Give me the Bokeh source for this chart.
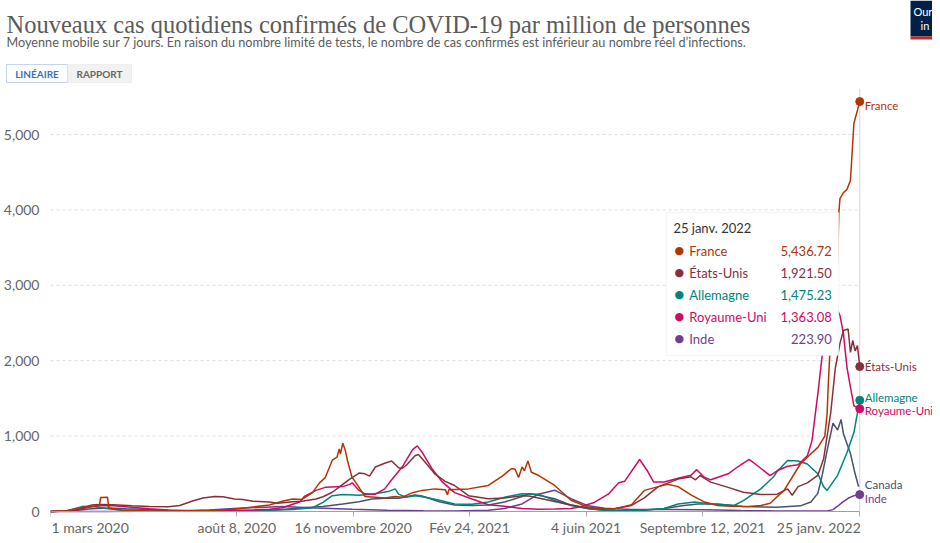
import datetime as dt
from bokeh.plotting import figure
from bokeh.layouts import column
from bokeh.models import Range1d, FixedTicker, NumeralTickFormatter, Label, BoxAnnotation
from bokeh.embed import file_html
from bokeh.resources import INLINE

# ---------------- data ----------------
france_dates = ["2020-03-01", "2020-03-15", "2020-03-25", "2020-04-05", "2020-04-12", "2020-04-13", "2020-04-19",
                "2020-04-20", "2020-05-01", "2020-05-20", "2020-06-15", "2020-07-01", "2020-07-20", "2020-08-06",
                "2020-08-22", "2020-09-05", "2020-09-16", "2020-09-25", "2020-10-03", "2020-10-12", "2020-10-18",
                "2020-10-23", "2020-10-29", "2020-11-02", "2020-11-04", "2020-11-05", "2020-11-07", "2020-11-09",
                "2020-11-11", "2020-11-15", "2020-11-18", "2020-11-26", "2020-12-05", "2020-12-13", "2020-12-22",
                "2020-12-28", "2021-01-06", "2021-01-14", "2021-01-25", "2021-02-03", "2021-02-05", "2021-02-06",
                "2021-02-23", "2021-03-12", "2021-03-24", "2021-04-01", "2021-04-04", "2021-04-07", "2021-04-10",
                "2021-04-12", "2021-04-15", "2021-04-18", "2021-04-24", "2021-05-08", "2021-05-22", "2021-06-06",
                "2021-06-20", "2021-06-28", "2021-07-13", "2021-07-24", "2021-08-05", "2021-08-13", "2021-08-22",
                "2021-09-02", "2021-09-13", "2021-09-25", "2021-10-06", "2021-10-22", "2021-11-01", "2021-11-09",
                "2021-11-21", "2021-12-05", "2021-12-11", "2021-12-20", "2021-12-26", "2021-12-28", "2021-12-29",
                "2021-12-31", "2022-01-03", "2022-01-06", "2022-01-07", "2022-01-08", "2022-01-11", "2022-01-14",
                "2022-01-17", "2022-01-20", "2022-01-23", "2022-01-25"]
france_values = [0, 10, 45, 70, 75, 185, 190,
                 45, 20, 10, 8, 10, 15, 30,
                 60, 85, 135, 165, 160, 250, 380,
                 450, 680, 720, 830, 760, 905, 820,
                 680, 450, 390, 200, 190, 180, 200,
                 190, 250, 280, 300, 290, 220, 290,
                 300, 345, 470, 570, 560, 450, 590,
                 540, 670, 520, 480, 345, 150, 55,
                 30, 35, 90, 280, 330, 360, 330,
                 220, 130, 80, 70, 65, 80, 110,
                 280, 630, 720, 850, 1000, 1300, 1700,
                 2300, 2800, 3300, 3950, 4150, 4230, 4270,
                 4390, 5150, 5320, 5436.72]

us_dates = ["2020-03-01", "2020-03-15", "2020-03-25", "2020-04-05", "2020-04-12", "2020-04-24", "2020-05-10",
            "2020-05-25", "2020-06-10", "2020-06-20", "2020-07-01", "2020-07-10", "2020-07-20", "2020-07-27",
            "2020-08-06", "2020-08-13", "2020-08-22", "2020-09-05", "2020-09-12", "2020-09-25", "2020-10-03",
            "2020-10-15", "2020-10-21", "2020-10-29", "2020-11-07", "2020-11-13", "2020-11-21", "2020-11-26",
            "2020-11-30", "2020-12-05", "2020-12-13", "2020-12-19", "2020-12-25", "2020-12-28", "2021-01-01",
            "2021-01-08", "2021-01-11", "2021-01-17", "2021-01-25", "2021-02-03", "2021-02-11", "2021-02-23",
            "2021-03-12", "2021-03-26", "2021-04-10", "2021-04-16", "2021-05-03", "2021-05-22", "2021-06-06",
            "2021-06-20", "2021-06-28", "2021-07-13", "2021-07-24", "2021-08-05", "2021-08-22", "2021-09-02",
            "2021-09-06", "2021-09-10", "2021-09-13", "2021-09-19", "2021-10-04", "2021-10-17", "2021-11-01",
            "2021-11-15", "2021-11-24", "2021-11-28", "2021-12-03", "2021-12-11", "2021-12-20", "2021-12-25",
            "2021-12-31", "2022-01-04", "2022-01-08", "2022-01-11", "2022-01-15", "2022-01-17", "2022-01-19",
            "2022-01-21", "2022-01-23", "2022-01-25"]
us_values = [0, 5, 30, 85, 92, 88, 75,
             65, 62, 80, 140, 180, 200, 195,
             165, 160, 135, 125, 110, 130, 135,
             165, 195, 255, 360, 430, 510, 500,
             470, 590, 640, 670, 580, 570, 620,
             740, 755, 650, 500, 400, 345, 210,
             170, 180, 210, 205, 150, 85, 45,
             35, 37, 80, 180, 330, 430, 460,
             420, 480, 445, 390, 320, 255, 225,
             230, 300, 215, 330, 380, 480, 700,
             1300, 1900, 2230, 2400, 2420, 2110, 2270,
             2130, 2200, 1921.50]

germany_dates = ["2020-03-01", "2020-03-15", "2020-03-28", "2020-04-05", "2020-04-18", "2020-05-01", "2020-05-20",
                 "2020-06-20", "2020-07-15", "2020-08-13", "2020-09-05", "2020-09-25", "2020-10-12", "2020-10-21",
                 "2020-10-29", "2020-11-07", "2020-11-21", "2020-12-02", "2020-12-17", "2020-12-22", "2020-12-25",
                 "2020-12-31", "2021-01-08", "2021-01-17", "2021-01-23", "2021-01-29", "2021-02-11", "2021-02-26",
                 "2021-03-12", "2021-03-26", "2021-04-10", "2021-04-24", "2021-05-08", "2021-05-22", "2021-06-06",
                 "2021-06-20", "2021-07-07", "2021-07-24", "2021-08-10", "2021-08-22", "2021-09-05", "2021-09-19",
                 "2021-10-09", "2021-10-17", "2021-11-01", "2021-11-12", "2021-11-15", "2021-11-24", "2021-12-03",
                 "2021-12-11", "2021-12-20", "2021-12-25", "2021-12-28", "2022-01-06", "2022-01-14", "2022-01-20",
                 "2022-01-25"]
germany_values = [0, 10, 65, 70, 40, 15, 8,
                  6, 6, 15, 15, 25, 50, 120,
                  210, 225, 215, 230, 270, 300, 230,
                  190, 210, 190, 170, 150, 100, 95,
                  125, 190, 235, 230, 145, 80, 35,
                  12, 8, 20, 40, 100, 125, 100,
                  80, 145, 300, 460, 530, 675, 670,
                  630, 500, 330, 280, 480, 780, 1050,
                  1475.23]

uk_dates = ["2020-03-01", "2020-03-20", "2020-04-01", "2020-04-10", "2020-04-24", "2020-05-10", "2020-05-25",
            "2020-06-10", "2020-07-01", "2020-08-01", "2020-08-22", "2020-09-05", "2020-09-16", "2020-10-01",
            "2020-10-05", "2020-10-15", "2020-10-23", "2020-11-07", "2020-11-13", "2020-11-15", "2020-11-21",
            "2020-11-26", "2020-12-05", "2020-12-13", "2020-12-19", "2020-12-28", "2021-01-06", "2021-01-10",
            "2021-01-14", "2021-01-23", "2021-01-31", "2021-02-11", "2021-02-26", "2021-03-12", "2021-03-26",
            "2021-04-10", "2021-04-24", "2021-05-08", "2021-05-22", "2021-05-28", "2021-06-11", "2021-06-23",
            "2021-07-02", "2021-07-07", "2021-07-20", "2021-07-27", "2021-08-01", "2021-08-10", "2021-08-22",
            "2021-09-02", "2021-09-07", "2021-09-13", "2021-09-19", "2021-10-04", "2021-10-12", "2021-10-22",
            "2021-10-29", "2021-11-09", "2021-11-15", "2021-11-24", "2021-12-03", "2021-12-11", "2021-12-15",
            "2021-12-20", "2021-12-24", "2021-12-28", "2022-01-02", "2022-01-05", "2022-01-08", "2022-01-11",
            "2022-01-14", "2022-01-17", "2022-01-20", "2022-01-25"]
uk_values = [0, 8, 50, 75, 75, 55, 35,
             20, 10, 12, 18, 30, 50, 125,
             200, 280, 320, 330, 360, 380, 280,
             235, 230, 300, 420, 590, 820, 870,
             790, 560, 400, 250, 165, 90, 70,
             40, 30, 32, 40, 55, 120, 230,
             380, 400, 690, 530, 390, 390, 440,
             480, 555, 460, 420, 500, 590, 690,
             610, 475, 540, 600, 620, 740, 940,
             1560, 2100, 2350, 2600, 2700, 2600, 2360,
             1915, 1650, 1400, 1363.08]

india_dates = ["2020-03-01", "2020-04-15", "2020-05-15", "2020-06-15", "2020-07-15", "2020-08-13", "2020-09-16",
               "2020-10-15", "2020-11-15", "2020-12-15", "2021-01-15", "2021-02-11", "2021-03-12", "2021-03-26",
               "2021-04-10", "2021-04-24", "2021-05-08", "2021-05-22", "2021-06-06", "2021-06-20", "2021-07-13",
               "2021-08-13", "2021-09-13", "2021-10-15", "2021-11-15", "2021-12-20", "2021-12-28", "2022-01-02",
               "2022-01-06", "2022-01-10", "2022-01-15", "2022-01-20", "2022-01-25"]
india_values = [0, 1, 3, 8, 20, 45, 67,
                47, 30, 18, 11, 8, 15, 40,
                100, 230, 283, 170, 75, 42, 28,
                28, 22, 12, 8, 5, 8, 25,
                70, 120, 175, 210, 223.90]

canada_dates = ["2020-03-01", "2020-03-20", "2020-04-05", "2020-04-20", "2020-05-05", "2020-05-25", "2020-06-15",
                "2020-07-15", "2020-08-15", "2020-09-10", "2020-10-01", "2020-10-21", "2020-11-07", "2020-11-21",
                "2020-12-02", "2020-12-17", "2020-12-25", "2021-01-08", "2021-01-14", "2021-01-29", "2021-02-11",
                "2021-02-26", "2021-03-12", "2021-03-26", "2021-04-10", "2021-04-16", "2021-04-24", "2021-05-08",
                "2021-05-22", "2021-06-06", "2021-06-20", "2021-07-07", "2021-07-24", "2021-08-10", "2021-08-27",
                "2021-09-08", "2021-09-25", "2021-10-17", "2021-11-15", "2021-12-05", "2021-12-14", "2021-12-20",
                "2021-12-24", "2021-12-28", "2022-01-02", "2022-01-06", "2022-01-09", "2022-01-11", "2022-01-17",
                "2022-01-21", "2022-01-24"]
canada_values = [0, 10, 35, 45, 35, 28, 10,
                 10, 10, 20, 45, 65, 100, 130,
                 165, 180, 175, 220, 205, 130, 85,
                 80, 85, 125, 200, 235, 215, 170,
                 85, 40, 20, 10, 15, 40, 80,
                 100, 100, 65, 55, 75, 125, 240,
                 500, 810, 1170, 1080, 1220, 1030, 770,
                 500, 330]

country_names = ["Canada", "Inde", "Allemagne", "Royaume-Uni", "États-Unis", "France"]
country_dates = [canada_dates, india_dates, germany_dates, uk_dates, us_dates, france_dates]
country_values = [canada_values, india_values, germany_values, uk_values, us_values, france_values]
country_colors = ["#45546e", "#6D3E91", "#00847E", "#CF0A66", "#883039", "#B13507"]
label_offsets = [2, -4, 3, -2, 0, -4]   # small vertical nudges of the end labels (px)

tick_dates = ["2020-03-01", "2020-08-08", "2020-11-16", "2021-02-24", "2021-06-04", "2021-09-12", "2022-01-25"]
tick_labels = ["1 mars 2020", "août 8, 2020", "16 novembre 2020", "Fév 24, 2021", "4 juin 2021",
               "Septembre 12, 2021", "25 janv. 2022"]
y_ticks = [0, 1000, 2000, 3000, 4000, 5000]

title_text = "Nouveaux cas quotidiens confirmés de COVID-19 par million de personnes"
subtitle_text = ("Moyenne mobile sur 7 jours. En raison du nombre limité de tests, le nombre de cas confirmés "
                 "est inférieur au nombre réel d’infections.")
hover_date = "2022-01-25"
hover_label = "25 janv. 2022"

# ---------------- layout (picture pixel coordinates) ----------------
EPOCH = dt.datetime(1970, 1, 1)


def D(s):
    return dt.datetime.strptime(s, "%Y-%m-%d")


def ms(d):
    return (d - EPOCH).total_seconds() * 1000.0


W, H = 932, 535
HEAD_H = 88
MAIN_H = H - HEAD_H
FL = 47                      # frame left
Y0 = 511                     # pixel row of value 0
PPU = (Y0 - 134) / 5000.0    # pixels per unit (5,000 sits at row 134)
X_START = D(tick_dates[0])
LAST = D(hover_date)
PPD = (859 - FL) / (LAST - X_START).days
X_END = X_START + dt.timedelta(days=(W - FL) / PPD)
Y_END = (Y0 - HEAD_H) / PPU
Y_START = -(H - Y0) / PPU


def px(x):
    return ms(X_START) + (x - FL) / PPD * 86400000.0


def py(y):
    return (Y0 - y) / PPU


# ---------------- header (title, subtitle, buttons, logo) ----------------
head = figure(width=W, height=HEAD_H, output_backend="svg", toolbar_location=None,
              x_range=Range1d(0, W), y_range=Range1d(HEAD_H, 0),
              x_axis_location=None, y_axis_location=None,
              min_border_left=0, min_border_right=0, min_border_top=0, min_border_bottom=0)
head.frame_align = False
head.grid.visible = False
head.outline_line_color = None
head.background_fill_color = "white"
head.border_fill_color = "white"

head.add_layout(Label(x=6, y=24, text=title_text, text_align="left", text_baseline="alphabetic",
                      text_font="Liberation Serif", text_font_size="24.5px", text_color="#5b5b5b"))
head.add_layout(Label(x=6, y=42, text=subtitle_text, text_align="left", text_baseline="alphabetic",
                      text_font="Lato", text_font_size="12.65px", text_color="#5b5b5b"))
# buttons
head.add_layout(BoxAnnotation(left=6, right=67, top=64, bottom=82, fill_color="white", fill_alpha=1.0,
                              line_color="#3a6fc4", line_width=1))
head.add_layout(BoxAnnotation(left=67, right=131, top=64, bottom=82, fill_color="#f2f2f2", fill_alpha=1.0,
                              line_color="#d8d8d8", line_width=1))
head.add_layout(Label(x=36.5, y=73, text="LINÉAIRE", text_align="center", text_baseline="middle",
                      text_font="Lato", text_font_size="10px", text_font_style="bold", text_color="#3a6fc4"))
head.add_layout(Label(x=99, y=73, text="RAPPORT", text_align="center", text_baseline="middle",
                      text_font="Lato", text_font_size="10px", text_font_style="bold", text_color="#666666"))
# logo, cut off by the right edge like the original (same visible part as the original)
head.add_layout(BoxAnnotation(left=910, right=990, top=0, bottom=36, fill_color="#002147", fill_alpha=1.0,
                              line_color=None))
head.add_layout(BoxAnnotation(left=910, right=990, top=36, bottom=39, fill_color="#ce261e", fill_alpha=1.0,
                              line_color=None))
head.add_layout(Label(x=913, y=11, text="Our World", text_align="left", text_baseline="middle",
                      text_font="Lato", text_font_size="11px", text_color="white"))
head.add_layout(Label(x=920, y=25, text="in Data", text_align="left", text_baseline="middle",
                      text_font="Lato", text_font_size="11px", text_color="white"))

# ---------------- main chart ----------------
p = figure(width=W, height=MAIN_H, output_backend="svg", toolbar_location=None, x_axis_type="datetime",
           x_range=Range1d(X_START, X_END), y_range=Range1d(Y_START, Y_END),
           min_border_left=FL, min_border_right=0, min_border_top=0, min_border_bottom=0)
p.frame_align = False
p.outline_line_color = None
p.background_fill_color = "white"
p.border_fill_color = "white"
p.grid.visible = False

# dashed horizontal grid lines, stopping at the last date like the original
grid = p.segment(x0=[X_START] * len(y_ticks), x1=[LAST] * len(y_ticks), y0=y_ticks, y1=y_ticks,
                 line_color="#dddddd", line_dash="3 3", line_width=1)
grid.level = "underlay"
# hover guide line at the hovered date
guide = p.segment(x0=[LAST], x1=[LAST], y0=[0], y1=[Y_END], line_color="#d6d6d6", line_width=1)
guide.level = "underlay"

p.yaxis.ticker = FixedTicker(ticks=y_ticks)
p.yaxis.formatter = NumeralTickFormatter(format="0,0")
p.yaxis.axis_line_color = None
p.yaxis.major_tick_line_color = None
p.yaxis.minor_tick_line_color = None
p.yaxis.major_label_standoff = 5
p.yaxis.major_label_text_font = "Lato"
p.yaxis.major_label_text_font_size = "14px"
p.yaxis.major_label_text_color = "#666666"

tick_ms = [ms(D(s)) for s in tick_dates]
overrides = {t: lab for t, lab in zip(tick_ms, tick_labels)}
overrides[tick_ms[0]] = ""      # drawn below, aligned to the start of its tick
overrides[tick_ms[-1]] = ""     # drawn below, aligned to the end of its tick
p.xaxis.ticker = FixedTicker(ticks=tick_ms)
p.xaxis.major_label_overrides = overrides
p.xaxis.fixed_location = 0
p.xaxis.bounds = (ms(X_START), ms(LAST))
p.xaxis.axis_line_color = "#a0a0a0"
p.xaxis.major_tick_line_color = "#b0b0b0"
p.xaxis.major_tick_in = 0
p.xaxis.major_tick_out = 5
p.xaxis.minor_tick_line_color = None
p.xaxis.major_label_standoff = 2
p.xaxis.major_label_text_font = "Lato"
p.xaxis.major_label_text_font_size = "14px"
p.xaxis.major_label_text_color = "#666666"

p.add_layout(Label(x=tick_ms[0], y=0, x_offset=1, y_offset=-7, text=tick_labels[0], text_align="left",
                   text_baseline="top", text_font="Lato", text_font_size="14px", text_color="#666666"))
p.add_layout(Label(x=tick_ms[-1], y=0, x_offset=1, y_offset=-7, text=tick_labels[-1], text_align="right",
                   text_baseline="top", text_font="Lato", text_font_size="14px", text_color="#666666"))

# lines
for name, ds, vs, col in zip(country_names, country_dates, country_values, country_colors):
    p.line([D(s) for s in ds], vs, line_color=col, line_width=1.5)

# end dots & labels
for name, ds, vs, col, off in zip(country_names, country_dates, country_values, country_colors, label_offsets):
    last_d = D(ds[-1])
    if last_d == LAST:
        p.scatter([last_d], [vs[-1]], size=8, fill_color=col, line_color=col)
    p.add_layout(Label(x=ms(LAST), y=vs[-1], x_offset=5, y_offset=off, text=name, text_align="left",
                       text_baseline="middle", text_font="Lato", text_font_size="11.5px", text_color=col))

# tooltip
rows = [(n, vs[-1], c) for n, ds, vs, c in zip(country_names, country_dates, country_values, country_colors)
        if D(ds[-1]) == LAST]
rows.sort(key=lambda r: -r[1])
p.add_layout(BoxAnnotation(left=px(665), right=px(838), top=py(212), bottom=py(355),
                           fill_color="white", fill_alpha=1.0, line_color="#d9d9d9", line_width=1))
p.add_layout(Label(x=px(672), y=py(227), text=hover_label, text_align="left", text_baseline="middle",
                   text_font="Lato", text_font_size="13px", text_color="#333333"))
for i, (n, v, c) in enumerate(rows):
    yy = py(250 + 22 * i)
    p.add_layout(Label(x=px(678), y=yy, text="●", text_align="center", text_baseline="middle",
                       text_font="DejaVu Sans", text_font_size="11px", text_color=c))
    p.add_layout(Label(x=px(688), y=yy, text=n, text_align="left", text_baseline="middle",
                       text_font="Lato", text_font_size="13px", text_color=c))
    p.add_layout(Label(x=px(831), y=yy, text=f"{v:,.2f}", text_align="right", text_baseline="middle",
                       text_font="Lato", text_font_size="13px", text_color=c))

layout = column(head, p, spacing=0)
open("out.html", "w").write(file_html(layout, INLINE))
